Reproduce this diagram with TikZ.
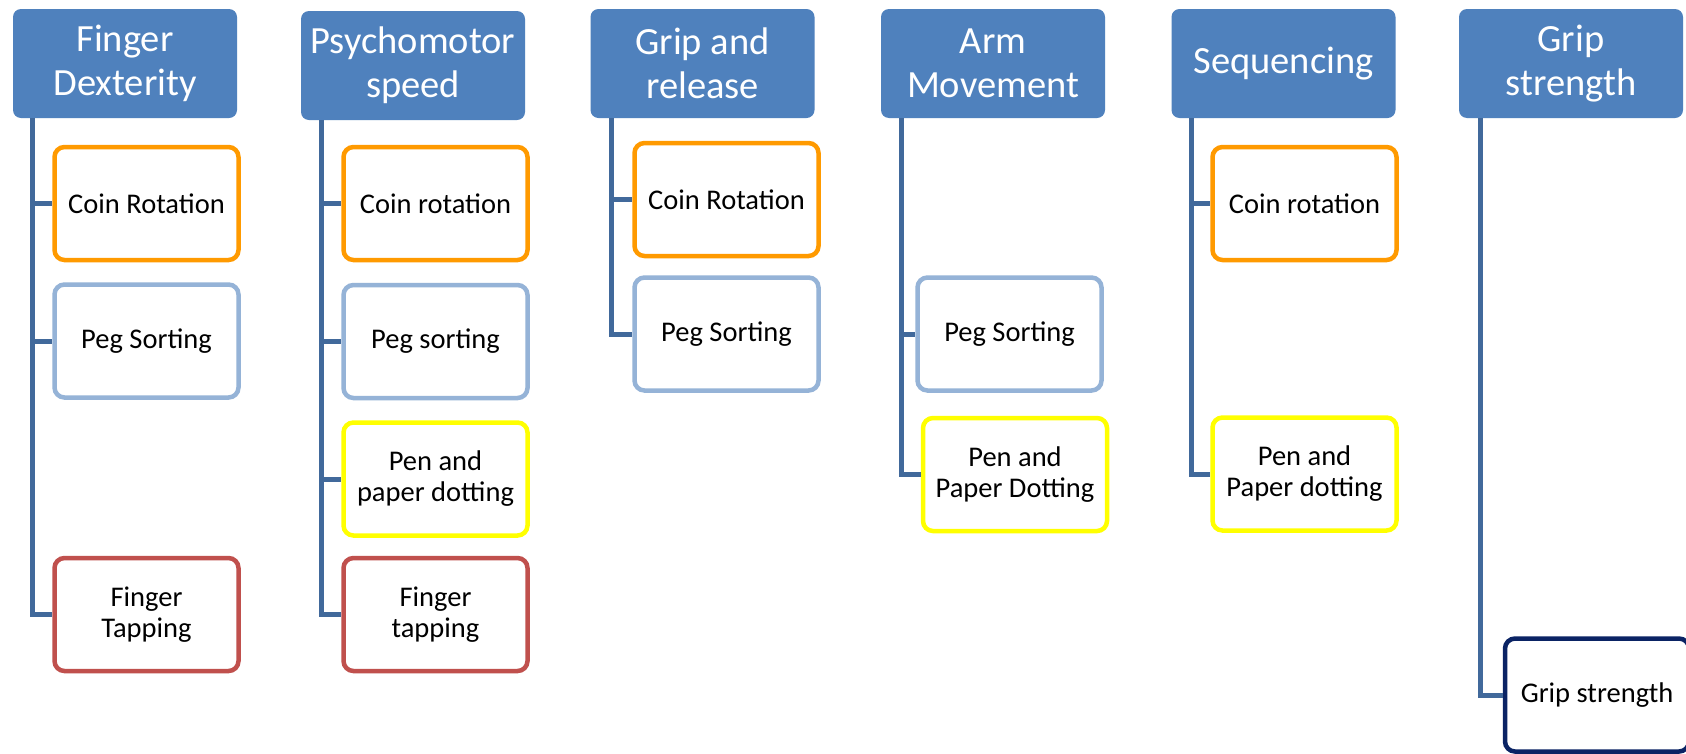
\documentclass[tikz,border=0pt]{standalone}
\usepackage{fontspec}
\setmainfont{Carlito}
\definecolor{hdblue}{HTML}{4F81BD}
\definecolor{conn}{HTML}{41699B}
\definecolor{corange}{HTML}{FF9A00}
\definecolor{clblue}{HTML}{95B3D7}
\definecolor{cyellow}{HTML}{FFFF00}
\definecolor{cred}{HTML}{C0504D}
\definecolor{cnavy}{HTML}{0A2364}
\tikzset{
  header/.style={fill=hdblue, draw=none, rounded corners=8pt, minimum width=224pt, minimum height=109pt,
    text=white, align=center, inner sep=0pt, font=\fontsize{38.5pt}{44pt}\selectfont},
  leaf/.style={fill=white, line width=4.5pt, rounded corners=10pt, minimum width=184pt, minimum height=113pt,
    text=black, align=center, inner sep=0pt, font=\fontsize{28.5pt}{31pt}\selectfont},
  orangebox/.style={leaf, draw=corange},
  lbluebox/.style={leaf, draw=clblue},
  yellowbox/.style={leaf, draw=cyellow},
  redbox/.style={leaf, draw=cred},
  navybox/.style={leaf, draw=cnavy},
  connline/.style={draw=conn, line width=5pt}
}
\begin{document}
\begin{tikzpicture}[x=1pt, y=-1pt]
\useasboundingbox (0,0) rectangle (1686,753);
\clip (0,0) rectangle (1686,753);
\fill[white] (0,0) rectangle (1686,753);

% headers
\node[header] (h1) at (125,63.5) {Finger\\Dexterity};
\node[header] (h2) at (413,65.5) {Psychomotor\\speed};
\node[header] (h3) at (702.5,63.5) {Grip and\\release};
\node[header] (h4) at (993,63.5) {Arm\\Movement};
\node[header] (h5) at (1283.5,63.5) {Sequencing};
\node[header] (h6) at (1571,63.5) {Grip\\strength};

% line tops
\coordinate (t1) at (32,118);
\coordinate (t2) at (321,120);
\coordinate (t3) at (611,118);
\coordinate (t4) at (901,118);
\coordinate (t5) at (1191,118);
\coordinate (t6) at (1480,118);

% connectors (drawn first so boxes overlap their ends)
\begin{scope}
\path (146.5,203.5) coordinate (pc11) (146.5,341) coordinate (pc12) (146.5,614.5) coordinate (pc13);
\end{scope}

% children column 1
\node[orangebox] (c11) at (146.5,203.5) {Coin Rotation};
\node[lbluebox] (c12) at (146.5,341) {Peg Sorting};
\node[redbox] (c13) at (146.5,614.5) {Finger\\Tapping};
% column 2
\node[orangebox] (c21) at (435.5,203.5) {Coin rotation};
\node[lbluebox] (c22) at (435.5,341.5) {Peg sorting};
\node[yellowbox] (c23) at (435.5,479) {Pen and\\paper dotting};
\node[redbox] (c24) at (435.5,614.5) {Finger\\tapping};
% column 3
\node[orangebox] (c31) at (726.5,199.5) {Coin Rotation};
\node[lbluebox] (c32) at (726.5,334) {Peg Sorting};
% column 4
\node[lbluebox] (c41) at (1009.5,334) {Peg Sorting};
\node[yellowbox] (c42) at (1015,474.5) {Pen and\\Paper Dotting};
% column 5
\node[orangebox] (c51) at (1304.5,203.5) {Coin rotation};
\node[yellowbox] (c52) at (1304.5,474) {Pen and\\Paper dotting};
% column 6
\node[navybox] (c61) at (1597,695) {Grip strength};

% connectors
\draw[connline] (t1) |- (c11.west);
\draw[connline] (t1) |- (c12.west);
\draw[connline] (t1) |- (c13.west);
\draw[connline] (t2) |- (c21.west);
\draw[connline] (t2) |- (c22.west);
\draw[connline] (t2) |- (c23.west);
\draw[connline] (t2) |- (c24.west);
\draw[connline] (t3) |- (c31.west);
\draw[connline] (t3) |- (c32.west);
\draw[connline] (t4) |- (c41.west);
\draw[connline] (t4) |- (c42.west);
\draw[connline] (t5) |- (c51.west);
\draw[connline] (t5) |- (c52.west);
\draw[connline] (t6) |- (c61.west);
\end{tikzpicture}
\end{document}
